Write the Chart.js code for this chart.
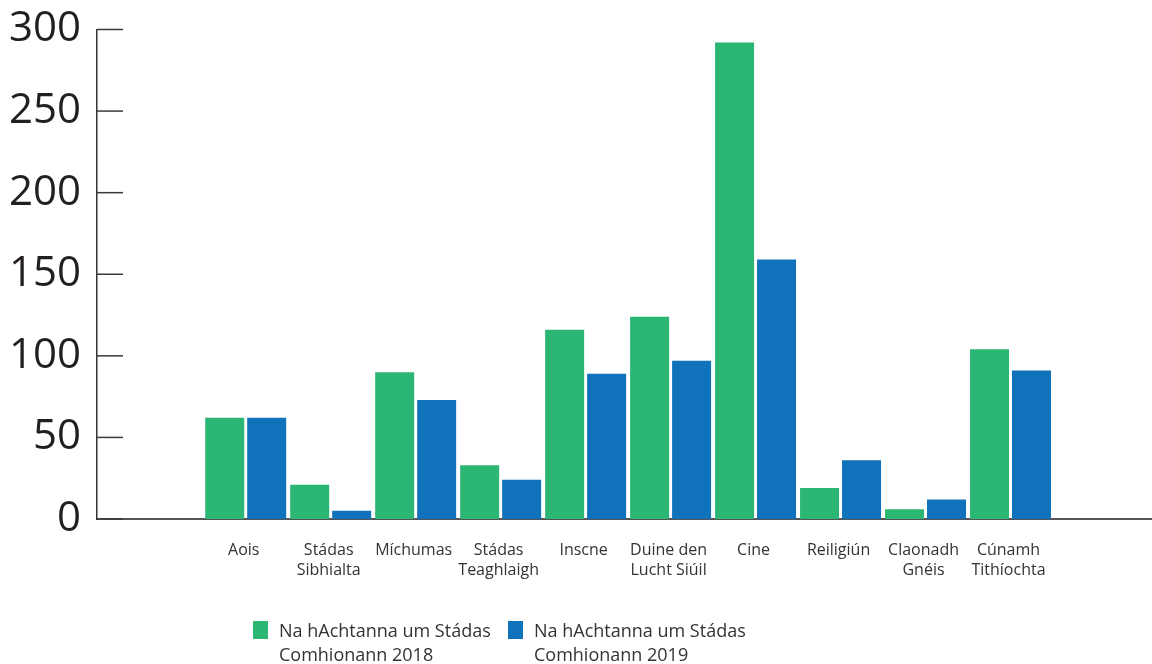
<!DOCTYPE html>
<html>
<head>
<meta charset="utf-8">
<script src="https://cdn.jsdelivr.net/npm/chart.js@4.4.1/dist/chart.umd.min.js"></script>
<style>
    html, body { margin: 0; padding: 0; background: #fff; }
    #wrap { position: relative; width: 1152px; height: 664px; }
    #legend { position: absolute; left: 253px; top: 618px; display: flex; font-family: 'Open Sans', sans-serif; font-size: 18px; line-height: 24px; color: #333; }
    #legend .item { display: flex; width: 255px; }
    #legend .swatch { width: 15px; height: 18px; margin-top: 3px; flex: none; }
    #legend .text { margin-left: 11px; white-space: nowrap; }
</style>
</head>
<body>
<div id="wrap">
    <canvas id="casesChart"></canvas>
    <div id="legend"></div>
</div>
<script>
const categories = ['Aois', ['Stádas', 'Sibhialta'], 'Míchumas', ['Stádas', 'Teaghlaigh'], 'Inscne',
    ['Duine den', 'Lucht Siúil'], 'Cine', 'Reiligiún', ['Claonadh', 'Gnéis'], ['Cúnamh', 'Tithíochta']];
const cases2018 = [62, 21, 90, 33, 116, 124, 292, 19, 6, 104];
const cases2019 = [62, 5, 73, 24, 89, 97, 159, 36, 12, 91];
const seriesNames = [['Na hAchtanna um Stádas', 'Comhionann 2018'], ['Na hAchtanna um Stádas', 'Comhionann 2019']];
const yTicks = [0, 50, 100, 150, 200, 250, 300];

// y ticks in the original point inwards, into the plot
const inwardTicks = {
    id: 'inwardTicks',
    afterDatasetsDraw(chart) {
        const y = chart.scales.y;
        const ctx = chart.ctx;
        ctx.save();
        ctx.strokeStyle = '#3a3a3a';
        ctx.lineWidth = 1.5;
        y.ticks.forEach(t => {
            const py = y.getPixelForValue(t.value);
            ctx.beginPath();
            ctx.moveTo(y.right, py);
            ctx.lineTo(y.right + 26, py);
            ctx.stroke();
        });
        ctx.restore();
    }
};

function toPoints(values) {
    return values.map((v, i) => ({ x: i, y: v }));
}

function buildLegend(chart) {
    const box = document.getElementById('legend');
    chart.data.datasets.forEach(ds => {
        const item = document.createElement('div');
        item.className = 'item';
        const swatch = document.createElement('span');
        swatch.className = 'swatch';
        swatch.style.background = ds.backgroundColor;
        const text = document.createElement('span');
        text.className = 'text';
        text.innerHTML = ds.label.join('<br>');
        item.appendChild(swatch);
        item.appendChild(text);
        box.appendChild(item);
    });
}

function drawChart() {
    const ctx = document.getElementById('casesChart').getContext('2d');

    const chart = new Chart(ctx, {
        type: 'bar',
        data: {
            datasets: [{
                label: seriesNames[0],
                data: toPoints(cases2018),
                backgroundColor: '#2bb673',
                categoryPercentage: 0.988,
                barPercentage: 0.929
            }, {
                label: seriesNames[1],
                data: toPoints(cases2019),
                backgroundColor: '#1072ba',
                categoryPercentage: 0.988,
                barPercentage: 0.929
            }]
        },
        options: {
            responsive: true,
            maintainAspectRatio: false,
            animation: false,
            layout: { padding: 0 },
            scales: {
                x: {
                    type: 'linear',
                    offset: false,
                    min: -1.75,
                    max: 10.665,
                    grid: { display: false, drawTicks: false },
                    border: { color: '#555', width: 2 },
                    afterBuildTicks: s => { s.ticks = categories.map((c, i) => ({ value: i })); },
                    afterFit: s => { s.height = 145; },
                    ticks: {
                        autoSkip: false,
                        maxRotation: 0,
                        padding: 21,
                        labelOffset: -2,
                        color: '#333',
                        font: { family: 'Open Sans', size: 16, lineHeight: 1.25 },
                        callback: value => categories[value]
                    }
                },
                y: {
                    min: 0,
                    max: 300,
                    grid: { display: false, drawTicks: false },
                    border: { color: '#333', width: 1.5 },
                    afterBuildTicks: s => { s.ticks = yTicks.map(v => ({ value: v })); },
                    afterFit: s => {
                        s.width = 97;
                        s.paddingTop = 29.5;
                        s.paddingBottom = 0;
                    },
                    ticks: {
                        padding: 16,
                        color: '#231f20',
                        font: { family: 'Open Sans', size: 42 }
                    }
                }
            },
            plugins: {
                tooltip: { enabled: false },
                legend: { display: false }
            }
        },
        plugins: [inwardTicks]
    });

    buildLegend(chart);
}

window.onload = drawChart;
</script>
</body>
</html>
